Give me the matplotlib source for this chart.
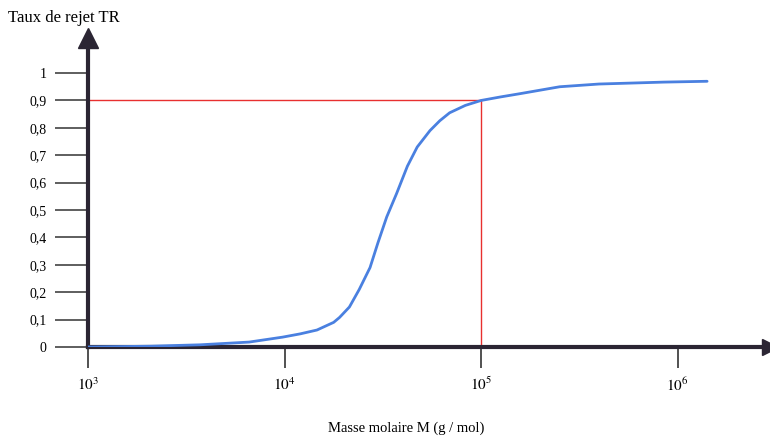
import matplotlib
matplotlib.use("Agg")
import matplotlib.pyplot as plt
import numpy as np

# Molar mass (log10 of g/mol) and rejection rate
log_mass = [3.0, 3.32, 3.57, 3.82, 3.99, 4.08, 4.165, 4.25, 4.28, 4.33, 4.38, 4.435,
            4.475, 4.52, 4.57, 4.625, 4.675, 4.74, 4.79, 4.84, 4.92, 5.0, 5.1, 5.2,
            5.4, 5.6, 5.93, 6.15]
rejection = [0.0, 0.003, 0.008, 0.018, 0.036, 0.048, 0.062, 0.09, 0.108, 0.146, 0.21,
             0.29, 0.38, 0.475, 0.56, 0.66, 0.73, 0.79, 0.826, 0.855, 0.882, 0.9,
             0.913, 0.925, 0.95, 0.96, 0.967, 0.97]

y_ticks = [0, 0.1, 0.2, 0.3, 0.4, 0.5, 0.6, 0.7, 0.8, 0.9, 1.0]
y_labels = ["0", "0,1", "0,2", "0,3", "0,4", "0,5", "0,6", "0,7", "0,8", "0,9", "1"]
x_ticks = [1e3, 1e4, 1e5, 1e6]
x_labels = ["$10^3$", "$10^4$", "$10^5$", "$10^6$"]

cutoff_mass = 1e5
cutoff_rate = 0.9

plt.rcParams["font.family"] = ["Liberation Serif", "DejaVu Serif"]
plt.rcParams["mathtext.fontset"] = "stix"

axis_color = "#2b2533"

fig = plt.figure(figsize=(7.7, 4.36), dpi=100)
ax = fig.add_axes([88 / 770, 89 / 436, 682 / 770, 309 / 436])

mass = np.power(10.0, log_mass)
ax.plot(mass, rejection, color="#4a80e0", lw=2.0, solid_capstyle="round",
        solid_joinstyle="round", zorder=3)

# 90 % cut-off guides
ax.plot([1e3, cutoff_mass], [cutoff_rate, cutoff_rate], color="#e8302f", lw=1.0, zorder=2)
ax.plot([cutoff_mass, cutoff_mass], [0, cutoff_rate], color="#e8302f", lw=1.0, zorder=2)

ax.set_xscale("log")
ax.set_xlim(1e3, 10 ** 6.47)
ax.set_ylim(0, 1.128)

for side in ("top", "right"):
    ax.spines[side].set_visible(False)
for side in ("left", "bottom"):
    ax.spines[side].set_linewidth(3)
    ax.spines[side].set_color(axis_color)

# arrow heads at the ends of the axes
ax.plot(1, 0, marker=">", ms=12, color=axis_color, transform=ax.transAxes, clip_on=False)
ax.plot(0, 1, marker="^", ms=14, color=axis_color, transform=ax.transAxes, clip_on=False)

ax.set_yticks(y_ticks)
ax.set_yticklabels(y_labels, fontsize=10)
ax.tick_params(axis="y", direction="out", length=24, width=1.1, color="#333333", pad=6)

ax.xaxis.set_major_locator(matplotlib.ticker.FixedLocator(x_ticks))
ax.xaxis.set_minor_locator(matplotlib.ticker.NullLocator())
ax.set_xticklabels(x_labels, fontsize=11)
ax.tick_params(axis="x", direction="out", length=15, width=1.1, color="#222222", pad=6)

fig.text(8 / 770, 1 - 18 / 436, "Taux de rejet TR", fontsize=12, va="center", ha="left")
fig.text(406 / 770, 1 - 428 / 436, "Masse molaire M (g / mol)", fontsize=10.5,
         va="center", ha="center")

fig.savefig("out.png", dpi=100)
